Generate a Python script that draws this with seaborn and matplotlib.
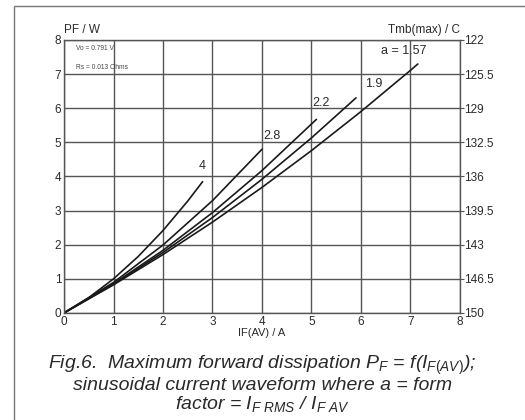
import matplotlib
matplotlib.use("Agg")
import matplotlib.pyplot as plt
import seaborn as sns
import pandas as pd
from matplotlib.patches import Rectangle

# ---- data ----
i_157 = [0, 1, 2, 3, 4, 5, 6, 7, 7.15]
p_157 = [0, 0.823, 1.710, 2.661, 3.677, 4.756, 5.900, 7.107, 7.294]
i_19 = [0, 1, 2, 3, 4, 5, 5.9]
p_19 = [0, 0.838, 1.770, 2.795, 3.915, 5.128, 6.301]
i_22 = [0, 1, 2, 3, 4, 5.1]
p_22 = [0, 0.854, 1.834, 2.939, 4.171, 5.671]
i_28 = [0, 1, 2, 3, 4.0]
p_28 = [0, 0.893, 1.990, 3.290, 4.795]
i_4 = [0, 0.5, 1, 1.5, 2, 2.5, 2.8]
p_4 = [0, 0.448, 0.999, 1.655, 2.414, 3.278, 3.846]
curve_names = ["1.57", "1.9", "2.2", "2.8", "4"]
x_ticks = [0, 1, 2, 3, 4, 5, 6, 7, 8]
y_ticks = [0, 1, 2, 3, 4, 5, 6, 7, 8]
right_ticks = ["150", "146.5", "143", "139.5", "136", "132.5", "129", "125.5", "122"]

rows = []
for name, xs, ys in zip(curve_names, [i_157, i_19, i_22, i_28, i_4],
                        [p_157, p_19, p_22, p_28, p_4]):
    for x, y in zip(xs, ys):
        rows.append({"a": name, "I": x, "P": y})
df = pd.DataFrame(rows)

sns.set_theme(style="white")
plt.rcParams["font.family"] = ["Liberation Sans", "DejaVu Sans"]
plt.rcParams["mathtext.fontset"] = "custom"
plt.rcParams["mathtext.rm"] = "Liberation Sans"
plt.rcParams["mathtext.it"] = "Liberation Sans:italic"

fig = plt.figure(figsize=(5.25, 4.2), dpi=100)
ax = fig.add_axes([0.122, 0.255, 0.754, 0.65])

sns.lineplot(data=df, x="I", y="P", units="a", estimator=None, color="#1a1a1a",
             linewidth=1.2, ax=ax, legend=False, sort=False)

tc = "#2a2a2a"
ax.set_xlim(0, 8)
ax.set_ylim(0, 8)
ax.set_xticks(x_ticks)
ax.set_yticks(y_ticks)
ax.set_xticklabels([str(t) for t in x_ticks], fontsize=8.5, color=tc)
ax.set_yticklabels([str(t) for t in y_ticks], fontsize=8.5, color=tc)
ax.tick_params(axis="both", length=0, pad=2)
ax.grid(True, color="#555555", linewidth=1.0)
for s in ax.spines.values():
    s.set_color("#555555")
    s.set_linewidth(1.0)
ax.set_xlabel("IF(AV) / A", fontsize=8, color=tc, labelpad=0)
ax.set_ylabel("")

ax2 = ax.twinx()
ax2.set_ylim(0, 8)
ax2.set_yticks(y_ticks)
ax2.set_yticklabels(right_ticks, fontsize=8.5, color=tc)
ax2.tick_params(axis="y", length=3, width=0.8, color="#555555", pad=0)
for s in ax2.spines.values():
    s.set_visible(False)

ax.text(0.0, 8.12, "PF / W", fontsize=8.5, color=tc, ha="left", va="bottom")
ax.text(8.0, 8.12, "Tmb(max) / C", fontsize=8.5, color=tc, ha="right", va="bottom")
ax.text(0.25, 7.75, "Vo = 0.791 V", fontsize=4.8, color="#444444", va="center")
ax.text(0.25, 7.2, "Rs = 0.013 Ohms", fontsize=4.8, color="#444444", va="center")

ax.text(6.4, 7.68, "a = 1.57", fontsize=9, color=tc, ha="left", va="center")
ax.text(6.25, 6.7, "1.9", fontsize=9, color=tc, ha="center", va="center")
ax.text(5.2, 6.15, "2.2", fontsize=9, color=tc, ha="center", va="center")
ax.text(4.2, 5.18, "2.8", fontsize=9, color=tc, ha="center", va="center")
ax.text(2.8, 4.3, "4", fontsize=9, color=tc, ha="center", va="center")

cap = ("Fig.6.  Maximum forward dissipation $P_F$ = f($I_{F(AV)}$);\n"
       "sinusoidal current waveform where a = form\n"
       "factor = $I_{F\\ RMS}$ / $I_{F\\ AV}$")
fig.text(0.5, 0.015, cap, fontsize=14, style="italic", color="#2a2a2a",
         ha="center", va="bottom", linespacing=1.0)

fig.patches.append(Rectangle((0.026, -0.02), 1.2, 1.005, transform=fig.transFigure,
                             fill=False, edgecolor="#777777", linewidth=1.0))

fig.savefig("out.png", dpi=100)
